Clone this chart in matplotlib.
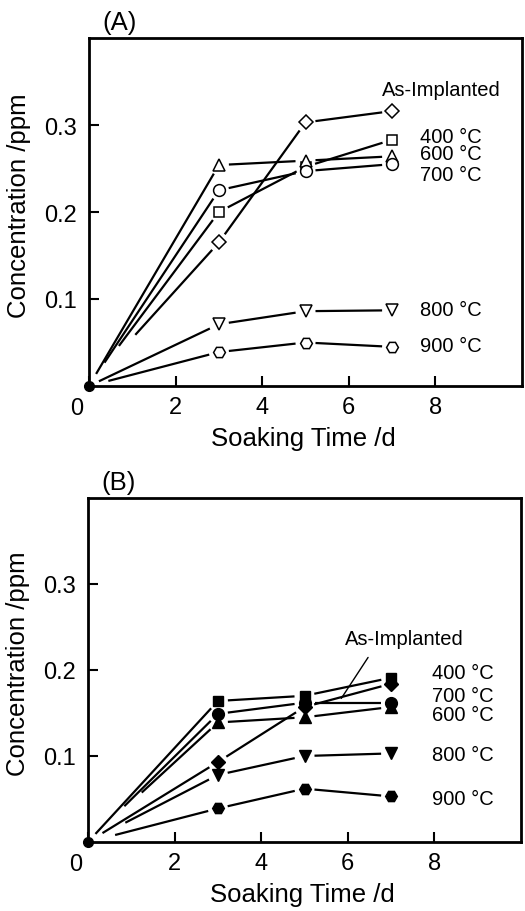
import matplotlib
matplotlib.use('Agg')
import matplotlib.pyplot as plt
import numpy as np

plt.rcParams['font.family'] = ['Liberation Sans', 'DejaVu Sans']

# soaking time (days); origin point (0, 0) shared by all series
days = [0, 3, 5, 7]

# panel A (open symbols)
a_names = ['As-Implanted', '400 °C', '600 °C', '700 °C', '800 °C', '900 °C']
a_asimp = [0, 0.165, 0.303, 0.316]
a_400 = [0, 0.200, 0.252, 0.283]
a_600 = [0, 0.254, 0.259, 0.264]
a_700 = [0, 0.225, 0.247, 0.255]
a_800 = [0, 0.071, 0.086, 0.087]
a_900 = [0, 0.039, 0.050, 0.045]

# panel B (filled symbols)
b_names = ['As-Implanted', '400 °C', '700 °C', '600 °C', '800 °C', '900 °C']
b_asimp = [0, 0.093, 0.157, 0.184]
b_400 = [0, 0.164, 0.170, 0.191]
b_700 = [0, 0.149, 0.162, 0.162]
b_600 = [0, 0.139, 0.145, 0.157]
b_800 = [0, 0.078, 0.100, 0.103]
b_900 = [0, 0.039, 0.062, 0.053]

lw = 1.6
fs_tick = 17
fs_lab = 18.5
fs_note = 14.5


def gapped(ax, xs, ys, start_gap, gap=10):
    # line pieces that stop short of the symbols, like the original drawing
    tr = ax.transData
    pts = tr.transform(np.column_stack([xs, ys]))
    for i in range(len(pts) - 1):
        p0, p1 = pts[i], pts[i + 1]
        d = p1 - p0
        u = d / np.hypot(*d)
        g0 = start_gap if i == 0 else gap
        seg = tr.inverted().transform([p0 + u * g0, p1 - u * gap])
        ax.plot(seg[:, 0], seg[:, 1], color='k', lw=lw, solid_capstyle='butt')


def setup(ax, tag):
    ax.set_xlim(0, 10)
    ax.set_ylim(0, 0.4)
    for s in ax.spines.values():
        s.set_linewidth(2.0)
    ax.set_xticks([0, 2, 4, 6, 8])
    ax.set_xticklabels(['', '2', '4', '6', '8'])
    ax.set_yticks([0.1, 0.2, 0.3])
    ax.set_yticklabels(['0.1', '0.2', '0.3'])
    ax.tick_params(direction='in', length=7, width=1.5, labelsize=fs_tick, pad=7)
    ax.tick_params(axis='y', pad=9)
    ax.annotate('0', xy=(0, 0), xycoords=('data', 'axes fraction'), xytext=(-9, -8),
                textcoords='offset points', ha='center', va='top', fontsize=fs_tick)
    ax.set_xlabel('Soaking Time /d', fontsize=fs_lab)
    ax.set_ylabel('Concentration /ppm', fontsize=fs_lab)
    ax.xaxis.set_label_coords(0.495, -0.115)
    ax.yaxis.set_label_coords(-0.135, 0.52)
    ax.text(0.032, 1.046, tag, transform=ax.transAxes, fontsize=fs_lab, va='center', ha='left')
    ax.plot([0], [0], 'o', color='k', ms=7, clip_on=False, zorder=5)


fig = plt.figure(figsize=(5.25, 9.12), dpi=100)

# ---- panel A
ax = fig.add_axes([89 / 525, 1 - 387 / 912, 433 / 525, 348 / 912])
setup(ax, '(A)')
a_series = [a_asimp, a_400, a_600, a_700, a_800, a_900]
a_marks = ['D', 's', '^', 'o', 'v', 'H']
a_msize = [7, 7, 8, 8.5, 8, 8.5]
a_start = [69, 50, 14, 28, 11, 20]
for ys, m, ms, g in zip(a_series, a_marks, a_msize, a_start):
    gapped(ax, days, ys, g)
    ax.plot(days[1:], ys[1:], m, ms=ms, mfc='white', mec='k', mew=1.1, ls='none', zorder=4)

ax.text(6.77, 0.341, a_names[0], fontsize=fs_note, va='center', ha='left')
for name, y in zip(a_names[1:], [0.287, 0.267, 0.243, 0.088, 0.046]):
    ax.text(7.64, y, name, fontsize=fs_note, va='center', ha='left')

# ---- panel B
ax = fig.add_axes([88 / 525, 1 - 843 / 912, 433 / 525, 344 / 912])
setup(ax, '(B)')
b_series = [b_asimp, b_400, b_700, b_600, b_800, b_900]
b_marks = ['D', 's', 'o', '^', 'v', 'H']
b_msize = [7, 7, 8.5, 8, 8, 8.5]
b_start = [17, 11, 51, 73, 42, 28]
for ys, m, ms, g in zip(b_series, b_marks, b_msize, b_start):
    gapped(ax, days, ys, g)
    ax.plot(days[1:], ys[1:], m, ms=ms, color='k', ls='none', zorder=4)

ax.annotate(b_names[0], xy=(5.85, 0.167), xytext=(5.93, 0.237), fontsize=fs_note,
            va='center', ha='left',
            arrowprops=dict(arrowstyle='-', color='k', lw=1.0, shrinkA=6, shrinkB=0,
                            relpos=(0.25, 0)))
for name, y in zip(b_names[1:], [0.197, 0.170, 0.148, 0.102, 0.051]):
    ax.text(7.94, y, name, fontsize=fs_note, va='center', ha='left')

fig.savefig('out.png', dpi=100)
